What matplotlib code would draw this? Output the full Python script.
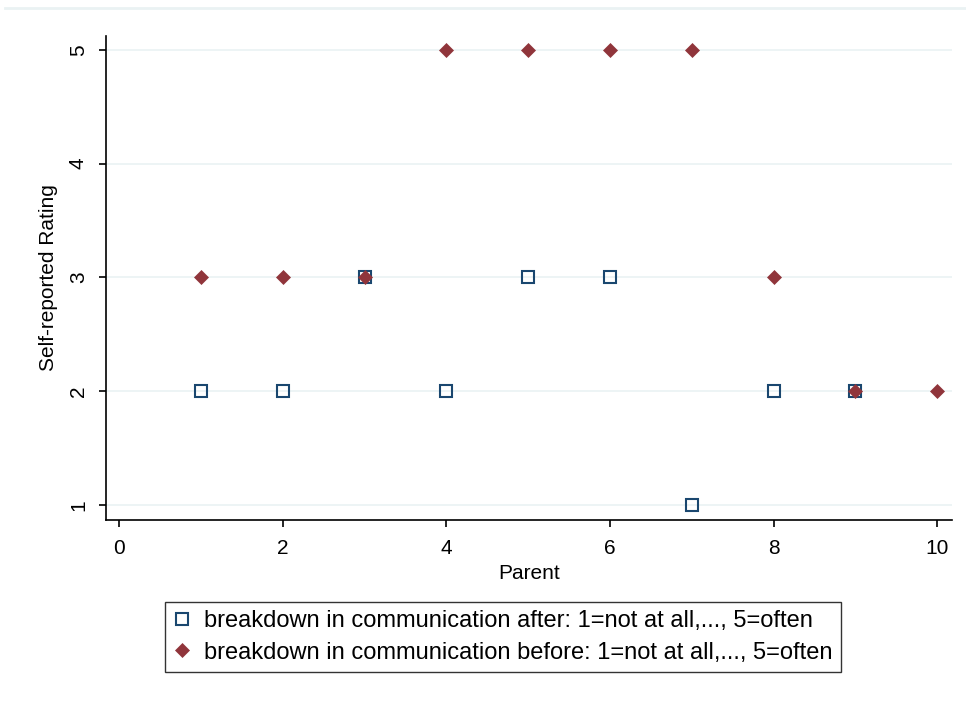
import numpy as np
import matplotlib
matplotlib.use('Agg')
import matplotlib.pyplot as plt
from matplotlib.lines import Line2D

plt.rcParams['font.family'] = ['Liberation Sans', 'DejaVu Sans']

# data
parent = np.arange(1, 11)
after = [2, 2, 3, 2, 3, 3, 1, 2, 2, np.nan]
before = [3, 3, 3, 5, 5, 5, 5, 3, 2, 2]

lab_after = 'breakdown in communication after: 1=not at all,..., 5=often'
lab_before = 'breakdown in communication before: 1=not at all,..., 5=often'

navy = '#1a476f'
maroon = '#90353b'

fig = plt.figure(figsize=(9.66, 7.07), dpi=100)
ax = fig.add_axes([0.1097, 0.2645, 0.8758, 0.6845])

# faint line at the top of the figure
fig.add_artist(Line2D([0.005, 1.0], [0.989, 0.989], color='#eaf2f3', lw=2))

for y in [1, 2, 3, 4, 5]:
    ax.axhline(y, color='#eaf2f3', lw=1.2, zorder=0)

ax.plot(parent, after, ls='none', marker='s', ms=8.5, mfc='none', mec=navy,
        mew=1.5, label=lab_after, zorder=3)
ax.plot(parent, before, ls='none', marker='D', ms=7.5, mfc=maroon, mec=maroon,
        mew=0.5, label=lab_before, zorder=4)

ax.set_xlim(-0.16, 10.18)
ax.set_ylim(0.868, 5.12)
ax.set_xticks([0, 2, 4, 6, 8, 10])
ax.set_yticks([1, 2, 3, 4, 5])
for s in ['top', 'right']:
    ax.spines[s].set_visible(False)
for s in ['left', 'bottom']:
    ax.spines[s].set_linewidth(1.2)
ax.tick_params(direction='out', length=5, width=1.2, labelsize=15)
ax.tick_params(axis='x', pad=9)
ax.tick_params(axis='y', pad=8)
plt.setp(ax.get_yticklabels(), rotation=90, va='center')
ax.set_xlabel('Parent', fontsize=15, labelpad=4)
ax.set_ylabel('Self-reported Rating', fontsize=15, labelpad=8)

leg = fig.legend(loc='upper left', bbox_to_anchor=(0.159, 0.1655), fontsize=17,
                 frameon=True, fancybox=False, edgecolor='black',
                 handlelength=0.7, handletextpad=0.6, borderpad=0.35,
                 labelspacing=0.4)
leg.get_frame().set_linewidth(1.0)

plt.savefig('out.png', dpi=100)
